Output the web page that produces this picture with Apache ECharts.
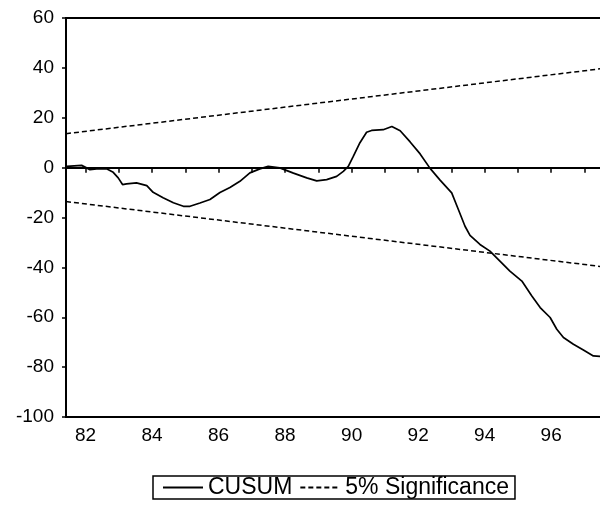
<!DOCTYPE html>
<html>
<head>
<meta charset="utf-8">
<script src="https://cdn.jsdelivr.net/npm/echarts@6/dist/echarts.min.js"></script>
<style>
  html, body { margin: 0; padding: 0; background: #fff; overflow: hidden; }
  #chart { width: 600px; height: 508px; }
</style>
</head>
<body>
<div id="chart"></div>
<script>
// Recursive CUSUM statistic (time in decimal years, 19xx)
const cusumDates = [81.43, 81.88, 82.13, 82.33, 82.63, 82.83, 82.98, 83.11, 83.23, 83.53,
  83.84, 84.03, 84.33, 84.64, 84.94, 85.14, 85.44, 85.74, 86.04, 86.34,
  86.64, 86.94, 87.24, 87.49, 87.84, 88.25, 88.65, 88.95, 89.25, 89.55,
  89.75, 89.90, 90.05, 90.25, 90.45, 90.60, 90.95, 91.21, 91.46, 91.76,
  92.06, 92.36, 92.66, 93.01, 93.21, 93.41, 93.56, 93.86, 94.16, 94.46,
  94.76, 95.12, 95.42, 95.67, 95.97, 96.17, 96.37, 96.67, 96.97, 97.27, 97.47, 97.59];
const cusumValues = [0.5, 0.9, -0.8, -0.5, -0.5, -1.9, -4.1, -6.8, -6.5, -6.1,
  -7.2, -9.9, -12.1, -14.1, -15.5, -15.5, -14.2, -12.8, -10.0, -8.0,
  -5.5, -2.1, -0.5, 0.5, -0.1, -2.2, -4.1, -5.3, -4.8, -3.5,
  -1.5, 0.5, 4.5, 10.0, 14.2, 14.9, 15.2, 16.5, 14.8, 10.3,
  5.5, -0.3, -5.0, -10.1, -16.8, -23.5, -27.2, -30.8, -33.5, -37.5,
  -41.5, -45.5, -51.5, -56.1, -60.1, -64.8, -68.1, -70.8, -73.1, -75.5, -75.7, -76.2];

// 5% significance bands (straight lines between the two end dates)
const bandDates = [81.41, 97.59];
const bandUpper = [13.6, 39.8];
const bandLower = [-13.6, -39.8];

// Axis ticks and labels
const yearTicks = [82, 83, 84, 85, 86, 87, 88, 89, 90, 91, 92, 93, 94, 95, 96, 97];
const yearLabels = [82, 84, 86, 88, 90, 92, 94, 96];
const yMin = -100, yMax = 60, yStep = 20;

const seriesNames = ['CUSUM', '5% Significance'];

const zip = (xs, ys) => xs.map((x, i) => [x, ys[i]]);
const font = 'Liberation Sans, Arial, sans-serif';

const chart = echarts.init(document.getElementById('chart'), null, { renderer: 'canvas' });
chart.setOption({
  animation: false,
  backgroundColor: '#ffffff',
  grid: {
    left: 66, top: 18, width: 538, bottom: 91,
    outerBoundsMode: 'none',
    containLabel: false,
    show: true, borderColor: '#000', borderWidth: 2, backgroundColor: 'transparent'
  },
  legend: {
    data: seriesNames,
    left: 153, top: 476,
    orient: 'horizontal',
    itemWidth: 40, itemHeight: 20, itemGap: 7,
    padding: [0, 6, 0, 9],
    borderColor: '#000', borderWidth: 1.5,
    itemStyle: { opacity: 0 },
    textStyle: { fontFamily: font, fontSize: 23, color: '#000', lineHeight: 22 },
    selectedMode: false
  },
  xAxis: {
    type: 'value',
    min: bandDates[0], max: bandDates[1],
    axisLine: { lineStyle: { color: '#000', width: 2 } },
    axisTick: { customValues: yearTicks, length: 5, inside: false, lineStyle: { color: '#000', width: 1.5 } },
    axisLabel: {
      customValues: yearLabels,
      formatter: v => String(Math.round(v)),
      fontFamily: font, fontSize: 19, color: '#000', margin: 9
    },
    splitLine: { show: false }
  },
  yAxis: {
    type: 'value',
    min: yMin, max: yMax, interval: yStep,
    axisLine: { show: true, lineStyle: { color: '#000', width: 2 } },
    axisTick: { show: true, length: 4, lineStyle: { color: '#000', width: 1.5 } },
    axisLabel: { fontFamily: font, fontSize: 19, color: '#000', margin: 12 },
    splitLine: { show: false }
  },
  series: [
    {
      name: seriesNames[0],
      type: 'line',
      data: zip(cusumDates, cusumValues),
      symbol: 'none',
      lineStyle: { color: '#000', width: 1.7, type: 'solid' },
      itemStyle: { color: '#000' },
      markLine: {
        silent: true,
        symbol: 'none',
        label: { show: false },
        lineStyle: { color: '#000', width: 1.6, type: 'solid' },
        data: [{ yAxis: 0 }]
      },
      z: 3
    },
    {
      name: seriesNames[1],
      type: 'line',
      data: zip(bandDates, bandUpper),
      symbol: 'none',
      lineStyle: { color: '#000', width: 1.5, type: [5, 3] },
      itemStyle: { color: '#000' }
    },
    {
      name: seriesNames[1],
      type: 'line',
      data: zip(bandDates, bandLower),
      symbol: 'none',
      lineStyle: { color: '#000', width: 1.5, type: [5, 3] },
      itemStyle: { color: '#000' }
    }
  ]
});
</script>
</body>
</html>
